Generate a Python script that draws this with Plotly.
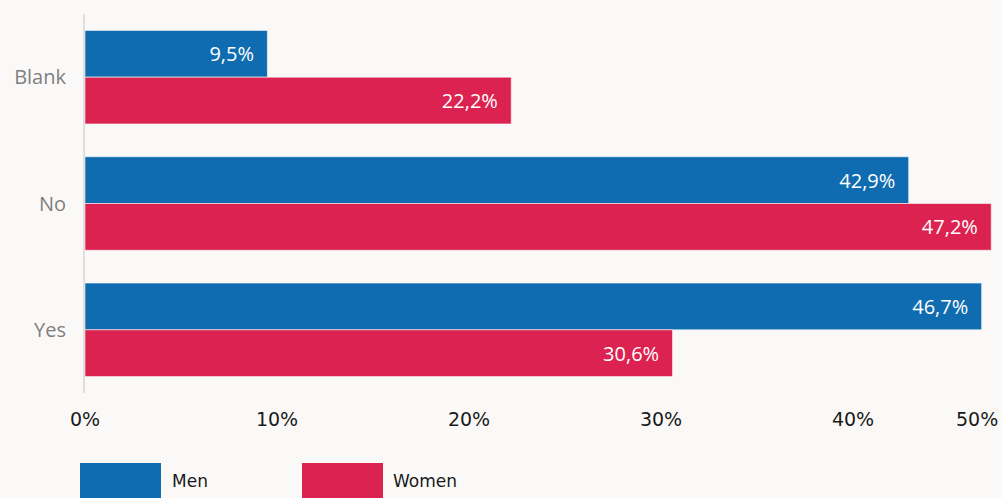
import plotly.graph_objects as go

categories = ["Blank", "No", "Yes"]
men = [9.5, 42.9, 46.7]
women = [22.2, 47.2, 30.6]
x_ticks = [0, 10, 20, 30, 40]
x_tick_labels = ["0%", "10%", "20%", "30%", "40%"]
last_tick_label = "50%"

BLUE = "#106cb0"
RED = "#dc2250"
BG = "#faf9f8"

W, H = 1002, 498
ML, MR, MT, MB = 85, 0, 14, 105
PW, PH = W - ML - MR, H - MT - MB

fig = go.Figure()
for name, vals, col in [("Men", men, BLUE), ("Women", women, RED)]:
    fig.add_trace(go.Bar(
        y=categories, x=vals, name=name, orientation="h",
        marker=dict(color=col, line=dict(color="rgba(255,255,255,0.55)", width=1)),
        texttemplate="%{x:.1f}%\u00a0\u00a0", textposition="inside",
        insidetextanchor="end",
        textfont=dict(family="Open Sans", size=20, color="white"),
        showlegend=False,
    ))

fig.update_layout(
    width=W, height=H,
    margin=dict(l=ML, r=MR, t=MT, b=MB, pad=0),
    paper_bgcolor=BG, plot_bgcolor=BG,
    barmode="group", bargap=0.26, bargroupgap=0,
    separators=", ",
)
fig.update_xaxes(
    range=[0, PW / 19.2], tickvals=x_ticks, ticktext=x_tick_labels,
    showgrid=False, zeroline=False, showline=False, ticks="",
    tickfont=dict(family="DejaVu Sans", size=19, color="#1a1a1a"),
    ticklabelstandoff=13, fixedrange=True,
)
fig.update_yaxes(
    autorange="reversed", showgrid=False, zeroline=False,
    showline=True, linecolor="#e0dfde", linewidth=2, ticks="",
    tickfont=dict(family="Open Sans", size=20, color="#7f7f7f"),
    ticklabelstandoff=13,
)

# last x tick label clamped to right edge
fig.add_annotation(
    xref="paper", yref="paper", x=1, y=0, xanchor="right", yanchor="top",
    xshift=-2, yshift=-13, text=last_tick_label, showarrow=False,
    font=dict(family="DejaVu Sans", size=19, color="#1a1a1a"),
)

# custom legend
def px_x(px):
    return (px - ML) / PW

def px_y(py):
    return (H - MB - py) / PH

legend_items = [("Men", BLUE, 80, 161, 172), ("Women", RED, 302, 383, 393)]
for label, col, x0, x1, tx in legend_items:
    fig.add_shape(type="rect", xref="paper", yref="paper",
                  x0=px_x(x0), x1=px_x(x1), y0=px_y(463), y1=px_y(500),
                  fillcolor=col, line=dict(width=0))
    fig.add_annotation(xref="paper", yref="paper", x=px_x(tx), y=px_y(481),
                       xanchor="left", yanchor="middle", text=label,
                       showarrow=False, xshift=-2,
                       font=dict(family="DejaVu Sans", size=17, color="#1a1a1a"))

fig.write_html(
    "out.html",
    config={"displayModeBar": False},
    post_script="document.body.style.margin='0';document.body.style.padding='0';"
                "document.body.style.background='" + BG + "';",
)
